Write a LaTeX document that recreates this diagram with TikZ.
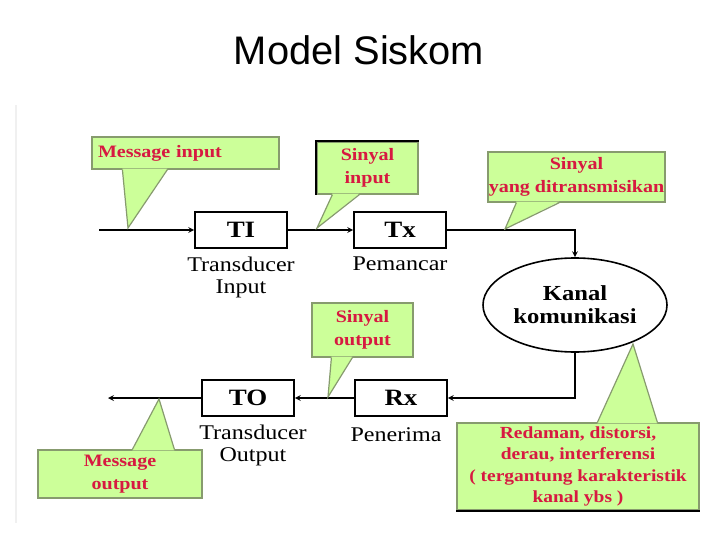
\documentclass[tikz,border=0pt]{standalone}
\usepackage{fontspec}
\newfontfamily\serifwide{Liberation Serif}[FakeStretch=1.15]
\newfontfamily\titlesans{Liberation Sans}
\usetikzlibrary{arrows,positioning,shapes}
\definecolor{callfill}{RGB}{204,255,153}
\definecolor{calledge}{RGB}{135,155,110}
\definecolor{calltext}{RGB}{215,25,65}
\tikzstyle{block}=[rectangle,draw=black,line width=1.6bp,minimum width=92bp,
minimum height=36bp,font=\serifwide\bfseries\fontsize{23.5}{25}\selectfont]
\tikzstyle{channel}=[ellipse,draw=black,line width=1.6bp,minimum width=184bp,
minimum height=94bp,inner sep=0pt,align=center,
font=\serifwide\bfseries\fontsize{21.5}{23}\selectfont]
\tikzstyle{blocklabel}=[align=center,inner sep=1bp,
font=\serifwide\fontsize{21}{22}\selectfont]
\tikzstyle{note}=[rectangle,draw=calledge,line width=1.2bp,fill=callfill,
text=calltext,align=center,inner sep=0pt,
font=\serifwide\bfseries\fontsize{17.5}{23}\selectfont]
\tikzstyle{link}=[line width=1.6bp,-stealth]
% pointer of a note: node, base start, base end, tip
\newcommand{\tipdown}[4]{%
  \fill[callfill] ([xshift=#2,yshift=1bp]#1.south west) -- (#4)
    -- ([xshift=#3,yshift=1bp]#1.south west) -- cycle;
  \draw[calledge,line width=1.2bp] ([xshift=#2]#1.south west) -- (#4)
    -- ([xshift=#3]#1.south west);}
\newcommand{\tipup}[4]{%
  \fill[callfill] ([xshift=#2,yshift=-1bp]#1.north west) -- (#4)
    -- ([xshift=#3,yshift=-1bp]#1.north west) -- cycle;
  \draw[calledge,line width=1.2bp] ([xshift=#2]#1.north west) -- (#4)
    -- ([xshift=#3]#1.north west);}

\begin{document}
\begin{tikzpicture}[x=1bp,y=-1bp]
	\useasboundingbox (0,0) rectangle (720,540);

	\node[font=\titlesans\fontsize{40}{44}\selectfont] (title) at (359,50) {Model Siskom};
	\draw[black!6,line width=2bp] (16,105) -- (16,523);

	% blocks
	\node[block] (TI) at (241,230) {TI};
	\node[block] (Tx) at (400,230) {Tx};
	\node[channel] (kanal) at (575,305) {Kanal\\komunikasi};
	\node[block] (Rx) at (401,398) {Rx};
	\node[block] (TO) at (248,398) {TO};

	\node[blocklabel, below=7bp of TI] (TIlbl) {Transducer\\Input};
	\node[blocklabel, below=7bp of Tx] (Txlbl) {Pemancar};
	\node[blocklabel, below=10bp of Rx, xshift=-5bp] (Rxlbl) {Penerima};
	\node[blocklabel, below=7bp of TO, xshift=5bp] (TOlbl) {Transducer\\Output};

	\coordinate (msgsrc) at (99,230);
	\coordinate (msgdst) at (108,398);

	\draw[link] (msgsrc) -- (TI);
	\draw[link] (TI) -- (Tx);
	\draw[link] (Tx) -| (kanal);
	\draw[link] (kanal) |- (Rx);
	\draw[link] (Rx) -- (TO);
	\draw[link] (TO) -- (msgdst);

	% notes
	\node[note, minimum width=187bp, minimum height=32bp, text width=175bp, align=left]
		(msgin) at (185.5,153) {Message input};
	\coordinate (msgintip) at (128,228);
	\tipdown{msgin}{31bp}{76bp}{msgintip}

	\node[note, minimum width=101bp, minimum height=52bp] (sigin) at (367.5,168) {Sinyal\\input};
	\coordinate (sigintip) at (317,228);
	\tipdown{sigin}{16bp}{43bp}{sigintip}
	\draw[line width=2bp] (sigin.south west) -- (sigin.north west) -- (sigin.north east);

	\node[note, minimum width=177bp, minimum height=50bp] (sigtx) at (576.5,177) {Sinyal\\yang ditransmisikan};
	\coordinate (sigtxtip) at (505,229);
	\tipdown{sigtx}{29bp}{72bp}{sigtxtip}

	\node[note, minimum width=101bp, minimum height=54bp] (sigout) at (362.5,330) {Sinyal\\output};
	\coordinate (sigouttip) at (328,397);
	\tipdown{sigout}{20bp}{41bp}{sigouttip}

	\node[note, minimum width=164bp, minimum height=48bp] (msgout) at (120,474) {Message\\output};
	\coordinate (msgouttip) at (159,399);
	\tipup{msgout}{95bp}{137bp}{msgouttip}

	\node[note, minimum width=242bp, minimum height=87bp,
		font=\serifwide\bfseries\fontsize{17}{21.5}\selectfont] (noise) at (578,466.5)
		{Redaman, distorsi,\\derau, interferensi\\( tergantung karakteristik\\kanal ybs )};
	\coordinate (noisetip) at (633,344);
	\tipup{noise}{141bp}{201bp}{noisetip}
	\draw[line width=2bp] (noise.south west) -- (noise.south east);
\end{tikzpicture}
\end{document}
